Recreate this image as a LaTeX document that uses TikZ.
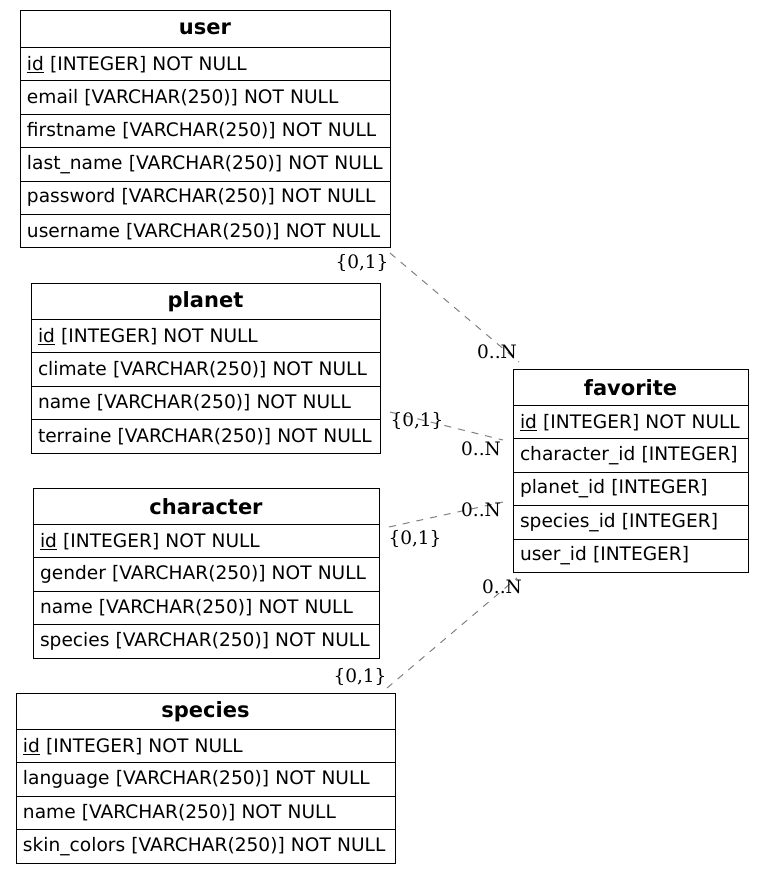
\documentclass[tikz,border=0pt]{standalone}
\usepackage{fontspec}
\setmainfont{DejaVu Sans}
\newfontfamily\lblfont{DejaVu Serif}
\begin{document}
\begin{tikzpicture}[x=1pt,y=-1pt,
  tbl/.style={draw, line width=1pt, anchor=north west, outer sep=0pt, inner xsep=7pt, inner ysep=0pt, font=\fontsize{18.6}{22}\selectfont},
  hdr/.style={tbl, minimum height=36.5pt, align=center, font=\fontsize{21}{24}\selectfont\bfseries},
  fld/.style={tbl, minimum height=33.4pt, align=left},
  conn/.style={draw=gray, line width=1pt, dash pattern=on 7pt off 7pt},
  lbl/.style={font=\lblfont\fontsize{18.5}{22}\selectfont, inner sep=0pt}]
\useasboundingbox (0,0) rectangle (764,875);
% user
\node[hdr, text width=356pt] (user) at (20,11) {user};
\node[fld, text width=356pt] (user1) at (user.south west) {\underline{id} [INTEGER] NOT NULL};
\node[fld, text width=356pt] (user2) at (user1.south west) {email [VARCHAR(250)] NOT NULL};
\node[fld, text width=356pt] (user3) at (user2.south west) {firstname [VARCHAR(250)] NOT NULL};
\node[fld, text width=356pt] (user4) at (user3.south west) {last\_name [VARCHAR(250)] NOT NULL};
\node[fld, text width=356pt] (user5) at (user4.south west) {password [VARCHAR(250)] NOT NULL};
\node[fld, text width=356pt] (user6) at (user5.south west) {username [VARCHAR(250)] NOT NULL};
% planet
\node[hdr, text width=335pt] (planet) at (31,283) {planet};
\node[fld, text width=335pt] (planet1) at (planet.south west) {\underline{id} [INTEGER] NOT NULL};
\node[fld, text width=335pt] (planet2) at (planet1.south west) {climate [VARCHAR(250)] NOT NULL};
\node[fld, text width=335pt] (planet3) at (planet2.south west) {name [VARCHAR(250)] NOT NULL};
\node[fld, text width=335pt] (planet4) at (planet3.south west) {terraine [VARCHAR(250)] NOT NULL};
% character
\node[hdr, text width=332pt] (character) at (33,488) {character};
\node[fld, text width=332pt] (character1) at (character.south west) {\underline{id} [INTEGER] NOT NULL};
\node[fld, text width=332pt] (character2) at (character1.south west) {gender [VARCHAR(250)] NOT NULL};
\node[fld, text width=332pt] (character3) at (character2.south west) {name [VARCHAR(250)] NOT NULL};
\node[fld, text width=332pt] (character4) at (character3.south west) {species [VARCHAR(250)] NOT NULL};
% species
\node[hdr, text width=365pt] (species) at (16,693) {species};
\node[fld, text width=365pt] (species1) at (species.south west) {\underline{id} [INTEGER] NOT NULL};
\node[fld, text width=365pt] (species2) at (species1.south west) {language [VARCHAR(250)] NOT NULL};
\node[fld, text width=365pt] (species3) at (species2.south west) {name [VARCHAR(250)] NOT NULL};
\node[fld, text width=365pt] (species4) at (species3.south west) {skin\_colors [VARCHAR(250)] NOT NULL};
% favorite
\node[hdr, text width=221pt] (favorite) at (513,369) {favorite};
\node[fld, text width=221pt] (favorite1) at (favorite.south west) {\underline{id} [INTEGER] NOT NULL};
\node[fld, text width=221pt] (favorite2) at (favorite1.south west) {character\_id [INTEGER]};
\node[fld, text width=221pt] (favorite3) at (favorite2.south west) {planet\_id [INTEGER]};
\node[fld, text width=221pt] (favorite4) at (favorite3.south west) {species\_id [INTEGER]};
\node[fld, text width=221pt] (favorite5) at (favorite4.south west) {user\_id [INTEGER]};
% connector ends
\coordinate (cu) at (390,253);
\coordinate (fu) at (519,362);
\coordinate (cp) at (390,412);
\coordinate (fp) at (503,440);
\coordinate (cc) at (389,527);
\coordinate (fc) at (503,502);
\coordinate (cs) at (387,688);
\coordinate (fs) at (517,578);
\draw[conn] (cu) -- (fu);
\draw[conn] (cp) -- (fp);
\draw[conn] (cc) -- (fc);
\draw[conn] (cs) -- (fs);
% labels
\node[lbl] (lu1) at (362,263) {\{0,1\}};
\node[lbl] (lu2) at (497,352) {0..N};
\node[lbl] (lp1) at (417,421) {\{0,1\}};
\node[lbl] (lp2) at (481,449) {0..N};
\node[lbl] (lc1) at (415,539) {\{0,1\}};
\node[lbl] (lc2) at (481,510) {0..N};
\node[lbl] (ls1) at (360,677) {\{0,1\}};
\node[lbl] (ls2) at (502,587) {0..N};
\end{tikzpicture}
\end{document}
